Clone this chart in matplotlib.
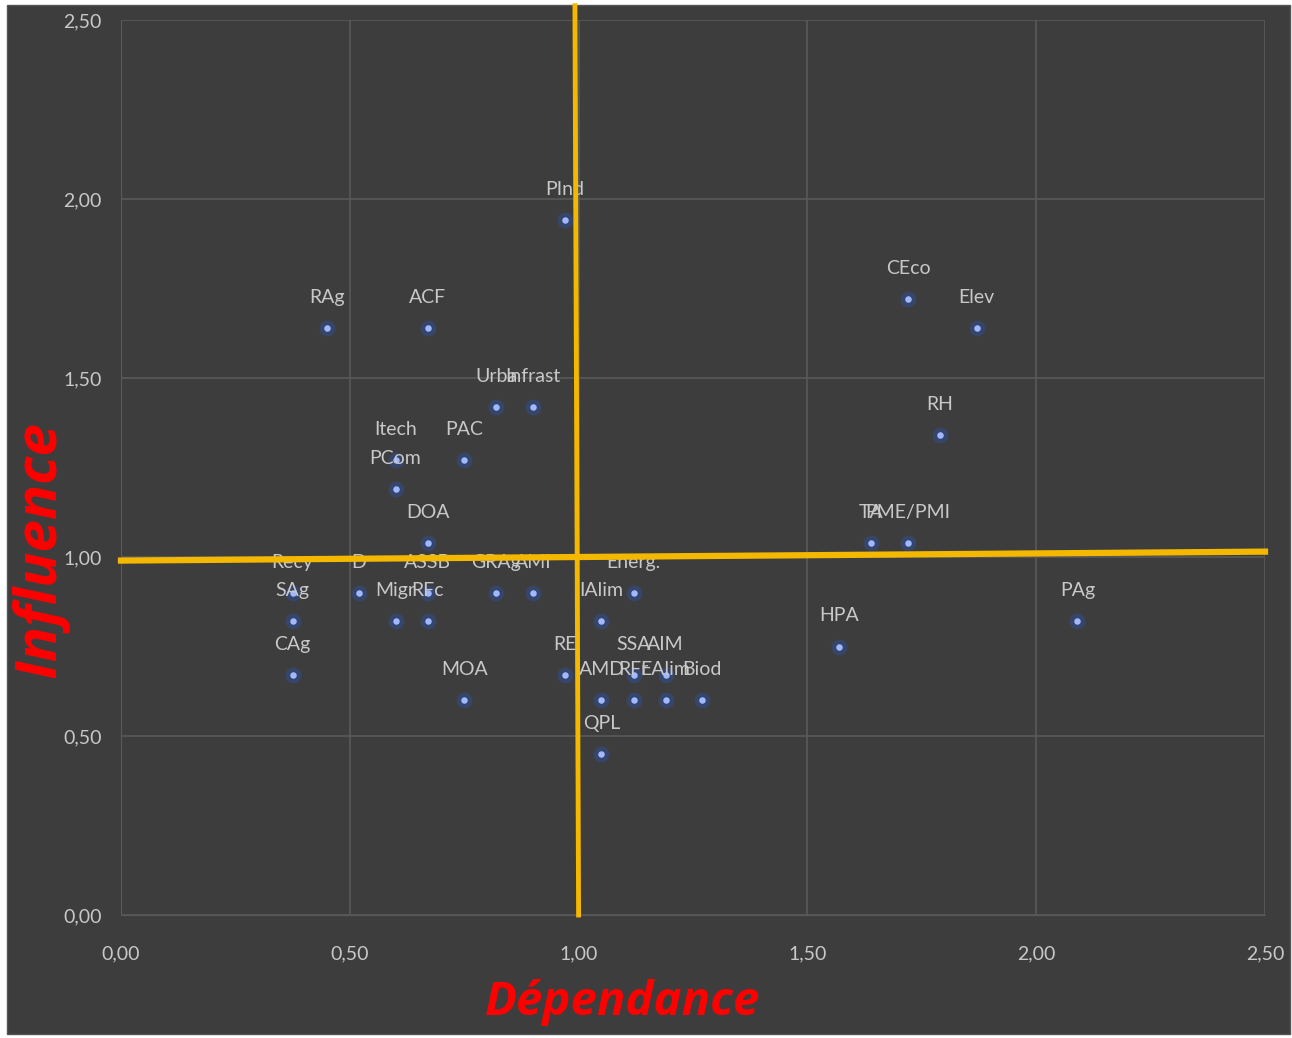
import matplotlib.pyplot as plt
from matplotlib.patches import Rectangle
from matplotlib.ticker import FuncFormatter

# variables : dependance (x), influence (y)
labels = ["PInd", "RAg", "ACF", "CEco", "Elev", "Urba", "Infrast", "RH",
          "Itech", "PCom", "PAC", "DOA", "TA", "PME/PMI",
          "Recy", "SAg", "CAg", "D", "ASSB", "Migr", "RFc", "GRAg", "AMI",
          "Energ.", "IAlim", "RE", "SSA", "AIM", "AMD", "RFr", "EAlim", "Biod",
          "QPL", "MOA", "HPA", "PAg"]
dependance = [0.97, 0.45, 0.67, 1.72, 1.87, 0.82, 0.90, 1.79,
              0.60, 0.60, 0.75, 0.67, 1.64, 1.72,
              0.375, 0.375, 0.375, 0.52, 0.67, 0.60, 0.67, 0.82, 0.90,
              1.12, 1.05, 0.97, 1.12, 1.19, 1.05, 1.12, 1.19, 1.27,
              1.05, 0.75, 1.57, 2.09]
influence = [1.94, 1.64, 1.64, 1.72, 1.64, 1.42, 1.42, 1.34,
             1.27, 1.19, 1.27, 1.04, 1.04, 1.04,
             0.90, 0.82, 0.67, 0.90, 0.90, 0.82, 0.82, 0.90, 0.90,
             0.90, 0.82, 0.67, 0.67, 0.67, 0.60, 0.60, 0.60, 0.60,
             0.45, 0.60, 0.75, 0.82]

bg = "#3d3d3d"
txt = "#c8c8c8"
yellow = "#f5b800"

fig = plt.figure(figsize=(12.92, 10.38), dpi=100, facecolor="white")
bgrect = Rectangle((7 / 1292, 4 / 1038), 1283 / 1292, 1029 / 1038,
                   transform=fig.transFigure, facecolor=bg,
                   edgecolor="#555555", zorder=-10)
fig.patches.append(bgrect)
ax = fig.add_axes([121 / 1292, 123 / 1038, 1144 / 1292, 895 / 1038])
ax.set_facecolor(bg)
ax.set_xlim(0, 2.5)
ax.set_ylim(0, 2.5)
ticks = [0, 0.5, 1.0, 1.5, 2.0, 2.5]
ax.set_xticks(ticks)
ax.set_yticks(ticks)
fmt = FuncFormatter(lambda v, p: f"{v:.2f}".replace(".", ","))
ax.xaxis.set_major_formatter(fmt)
ax.yaxis.set_major_formatter(fmt)
ax.tick_params(colors=txt, labelsize=14, length=0)
ax.tick_params(axis="x", pad=22)
ax.tick_params(axis="y", pad=14)
for lab in ax.get_xticklabels() + ax.get_yticklabels():
    lab.set_fontfamily("Lato")
ax.grid(True, color="#595959", linewidth=1.2)
for s in ax.spines.values():
    s.set_visible(False)
ax.spines["left"].set_visible(True)
ax.spines["left"].set_color("#595959")
ax.spines["bottom"].set_visible(True)
ax.spines["bottom"].set_color("#595959")

# points with a glow
ax.scatter(dependance, influence, s=130, color="#2a55c0", alpha=0.35,
           linewidths=0, zorder=3)
ax.scatter(dependance, influence, s=22, color="#9fb8ff", linewidths=0,
           zorder=4)
for lab, x, y in zip(labels, dependance, influence):
    ax.annotate(lab, (x, y), xytext=(0, 22), textcoords="offset points",
                ha="center", va="center", color=txt, fontsize=14,
                fontfamily="Lato", zorder=5)

# quadrant lines
ax.plot([0.992, 1.0], [2.54, 0], color=yellow, linewidth=3.5, zorder=6,
        clip_on=False)
ax.plot([0, 2.5], [0.99, 1.015], color=yellow, linewidth=4.5, zorder=6,
        clip_on=False)

fig.text(622 / 1292, 1 - 1003 / 1038, "Dépendance", color="red",
         fontsize=34, fontweight="bold", fontstyle="italic",
         ha="center", va="center", fontfamily="Open Sans")
fig.text(40 / 1292, 1 - 550 / 1038, "Influence", color="red",
         fontsize=42, fontweight="bold", fontstyle="italic", rotation=90,
         ha="center", va="center", fontfamily="Open Sans")

plt.savefig("out.png", dpi=100, facecolor="white")
